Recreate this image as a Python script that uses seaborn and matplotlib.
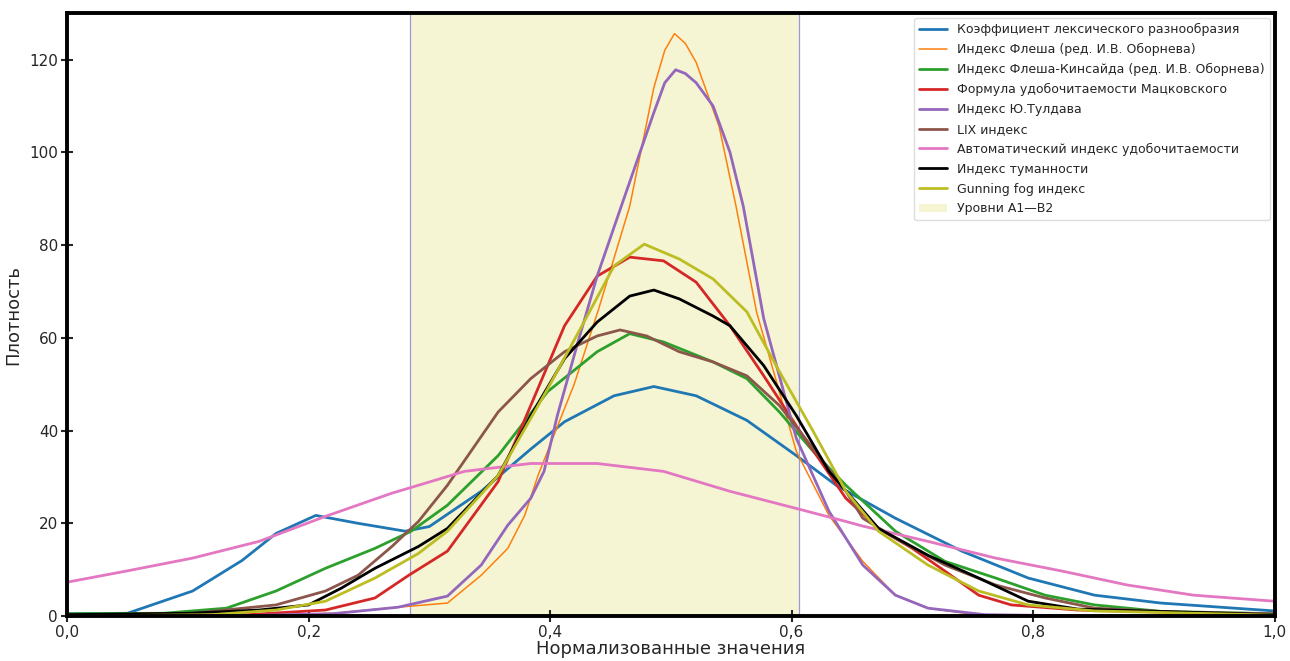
import numpy as np
import pandas as pd
import matplotlib
matplotlib.use("Agg")
import matplotlib.pyplot as plt
from matplotlib.ticker import FuncFormatter
import seaborn as sns


# Series names (legend order)
NAMES = [
    "Коэффициент лексического разнообразия",
    "Индекс Флеша (ред. И.В. Оборнева)",
    "Индекс Флеша-Кинсайда (ред. И.В. Оборнева)",
    "Формула удобочитаемости Мацковского",
    "Индекс Ю.Тулдава",
    "LIX индекс",
    "Автоматический индекс удобочитаемости",
    "Индекс туманности",
    "Gunning fog индекс",
]
COLORS = ["#1f77b4", "#ff7f0e", "#2ca02c", "#d62728", "#9467bd",
          "#8c564b", "#e377c2", "#000000", "#bcbd22"]
SPAN_LABEL = "Уровни A1—B2"
SPAN_LO, SPAN_HI = 0.284, 0.606

# Density curves (x, y)
lex_x = [0.0, 0.05, 0.104, 0.145, 0.173, 0.206, 0.241, 0.28, 0.30, 0.343, 0.384, 0.412,
         0.453, 0.486, 0.521, 0.563, 0.604, 0.637, 0.686, 0.741, 0.796, 0.851, 0.906, 1.0]
lex_y = [0.5, 0.6, 5.4, 12.0, 17.8, 21.7, 20.0, 18.3, 19.3, 26.9, 36.0, 41.9,
         47.5, 49.5, 47.5, 42.2, 34.6, 28.2, 21.1, 14.0, 8.2, 4.5, 2.8, 1.1]

flesch_x = [0.0, 0.15, 0.22, 0.274, 0.315, 0.343, 0.365, 0.379, 0.39, 0.42, 0.44, 0.466,
            0.486, 0.495, 0.503, 0.512, 0.521, 0.540, 0.554, 0.571, 0.604, 0.631, 0.659,
            0.686, 0.713, 0.755, 0.85, 1.0]
flesch_y = [0.0, 0.1, 0.6, 1.9, 2.8, 8.8, 14.6, 21.7, 30.3, 50.0, 66.0, 88.4,
            114.0, 122.0, 125.6, 123.5, 119.4, 105.6, 88.4, 65.6, 35.5, 21.7, 11.8,
            4.5, 1.7, 0.2, 0.0, 0.0]

fk_x = [0.0, 0.08, 0.132, 0.173, 0.214, 0.255, 0.285, 0.315, 0.357, 0.398, 0.439, 0.466,
        0.494, 0.535, 0.563, 0.59, 0.618, 0.645, 0.686, 0.727, 0.769, 0.81, 0.851, 0.906, 1.0]
fk_y = [0.5, 0.6, 1.7, 5.4, 10.3, 14.6, 18.3, 23.9, 34.6, 48.4, 57.0, 60.9,
        59.1, 54.8, 51.2, 44.0, 35.5, 28.2, 18.3, 11.8, 8.2, 4.5, 2.4, 1.0, 0.5]

mac_x = [0.0, 0.15, 0.214, 0.255, 0.283, 0.315, 0.357, 0.384, 0.412, 0.439, 0.466, 0.494,
         0.521, 0.549, 0.577, 0.604, 0.645, 0.672, 0.70, 0.727, 0.755, 0.782, 0.837, 1.0]
mac_y = [0.0, 0.3, 1.3, 3.9, 8.8, 14.0, 29.0, 45.4, 62.6, 73.3, 77.4, 76.6,
         72.0, 62.6, 51.8, 41.0, 25.4, 18.9, 14.6, 9.7, 4.5, 2.4, 1.3, 0.3]

tul_x = [0.0, 0.15, 0.22, 0.274, 0.315, 0.343, 0.365, 0.384, 0.395, 0.406, 0.423, 0.439,
         0.461, 0.486, 0.495, 0.504, 0.512, 0.521, 0.535, 0.549, 0.56, 0.577, 0.604, 0.631,
         0.659, 0.686, 0.713, 0.76, 0.85, 1.0]
tul_y = [0.0, 0.1, 0.5, 1.9, 4.3, 11.0, 19.6, 25.4, 31.2, 43.2, 59.0, 73.3,
         89.9, 108.6, 115.0, 117.8, 117.0, 115.0, 110.0, 100.0, 88.4, 64.1, 38.3, 22.6,
         11.0, 4.5, 1.7, 0.3, 0.0, 0.0]

lix_x = [0.0, 0.1, 0.173, 0.214, 0.241, 0.269, 0.291, 0.315, 0.357, 0.384, 0.412, 0.439,
         0.458, 0.48, 0.507, 0.535, 0.563, 0.59, 0.618, 0.645, 0.659, 0.686, 0.727, 0.769,
         0.81, 0.851, 0.92, 1.0]
lix_y = [0.3, 0.5, 2.4, 5.4, 8.8, 15.0, 20.4, 28.2, 44.0, 51.2, 57.0, 60.4,
         61.7, 60.4, 57.0, 54.8, 51.8, 45.4, 36.1, 26.9, 21.1, 16.8, 11.0, 6.7,
         3.9, 1.7, 0.8, 0.5]

ari_x = [0.0, 0.049, 0.104, 0.159, 0.214, 0.269, 0.291, 0.329, 0.384, 0.439, 0.494, 0.549,
         0.604, 0.645, 0.659, 0.713, 0.769, 0.824, 0.878, 0.933, 1.0]
ari_y = [7.3, 9.7, 12.5, 16.1, 21.5, 26.5, 28.2, 31.2, 32.9, 32.9, 31.2, 26.9,
         23.2, 20.4, 19.4, 16.1, 12.5, 9.7, 6.7, 4.5, 3.2]

fog_x = [0.0, 0.1, 0.159, 0.2, 0.227, 0.255, 0.291, 0.315, 0.357, 0.384, 0.412, 0.439,
         0.466, 0.486, 0.507, 0.535, 0.549, 0.577, 0.604, 0.631, 0.672, 0.713, 0.755,
         0.796, 0.837, 1.0]
fog_y = [0.3, 0.6, 1.3, 2.4, 6.0, 10.3, 15.0, 18.9, 30.3, 43.2, 55.5, 63.4,
         69.0, 70.3, 68.4, 64.7, 62.6, 54.0, 43.2, 31.2, 18.9, 13.1, 8.2,
         3.2, 1.5, 0.3]

gun_x = [0.0, 0.12, 0.173, 0.214, 0.255, 0.291, 0.315, 0.357, 0.398, 0.425, 0.453, 0.478,
         0.507, 0.535, 0.563, 0.59, 0.618, 0.645, 0.672, 0.713, 0.755, 0.796, 0.851, 1.0]
gun_y = [0.0, 0.3, 1.3, 3.2, 8.2, 13.5, 18.3, 30.3, 49.0, 61.9, 75.5, 80.2,
         77.0, 72.7, 65.6, 52.7, 39.8, 26.9, 18.3, 11.0, 5.4, 2.4, 1.1, 0.2]

CURVES = [(lex_x, lex_y), (flesch_x, flesch_y), (fk_x, fk_y), (mac_x, mac_y),
          (tul_x, tul_y), (lix_x, lix_y), (ari_x, ari_y), (fog_x, fog_y), (gun_x, gun_y)]


def build_long_table():
    frames = []
    for name, (xs, ys) in zip(NAMES, CURVES):
        frames.append(pd.DataFrame({"x": xs, "y": ys, "series": name}))
    return pd.concat(frames, ignore_index=True)


def draw(df):
    sns.set_style("ticks")
    plt.rcParams["font.family"] = ["DejaVu Sans"]

    fig = plt.figure(figsize=(12.9, 6.61), dpi=100)
    ax = fig.add_axes([0.052, 0.068, 0.936, 0.912])

    # shaded level band, thin bluish border lines on both edges
    ax.axvspan(SPAN_LO, SPAN_HI, facecolor="#f5f5d3", edgecolor="none",
               label=SPAN_LABEL, zorder=0)
    for edge in (SPAN_LO, SPAN_HI):
        ax.axvline(edge, color="#9a9ad8", linewidth=0.9, zorder=0.5)

    for name, color in zip(NAMES, COLORS):
        lw = 1.1 if color == "#ff7f0e" else 2.0
        sns.lineplot(data=df[df["series"] == name], x="x", y="y", color=color,
                     linewidth=lw, label=name, sort=False, ax=ax)

    ax.set_xlim(0, 1.0)
    ax.set_ylim(0, 130)
    ax.set_xticks([0.0, 0.2, 0.4, 0.6, 0.8, 1.0])
    ax.set_yticks([0, 20, 40, 60, 80, 100, 120])
    ax.xaxis.set_major_formatter(FuncFormatter(lambda v, p: f"{v:.1f}".replace(".", ",")))
    ax.tick_params(axis="both", direction="inout", length=9, width=1.5, labelsize=11, pad=2)

    for spine in ax.spines.values():
        spine.set_visible(True)
        spine.set_linewidth(2.8)
        spine.set_color("black")

    ax.set_xlabel("Нормализованные значения", fontsize=13, labelpad=0)
    ax.set_ylabel("Плотность", fontsize=13, labelpad=5)

    handles, labels = ax.get_legend_handles_labels()
    order = [labels.index(n) for n in NAMES] + [labels.index(SPAN_LABEL)]
    ax.legend([handles[i] for i in order], [labels[i] for i in order],
              loc="upper right", fontsize=9.0, frameon=True, framealpha=1,
              edgecolor="#dddddd", borderaxespad=0.4, handlelength=2.2,
              labelspacing=0.55)

    fig.savefig("out.png", dpi=100)


def main():
    df = build_long_table()
    draw(df)


if __name__ == "__main__":
    main()
